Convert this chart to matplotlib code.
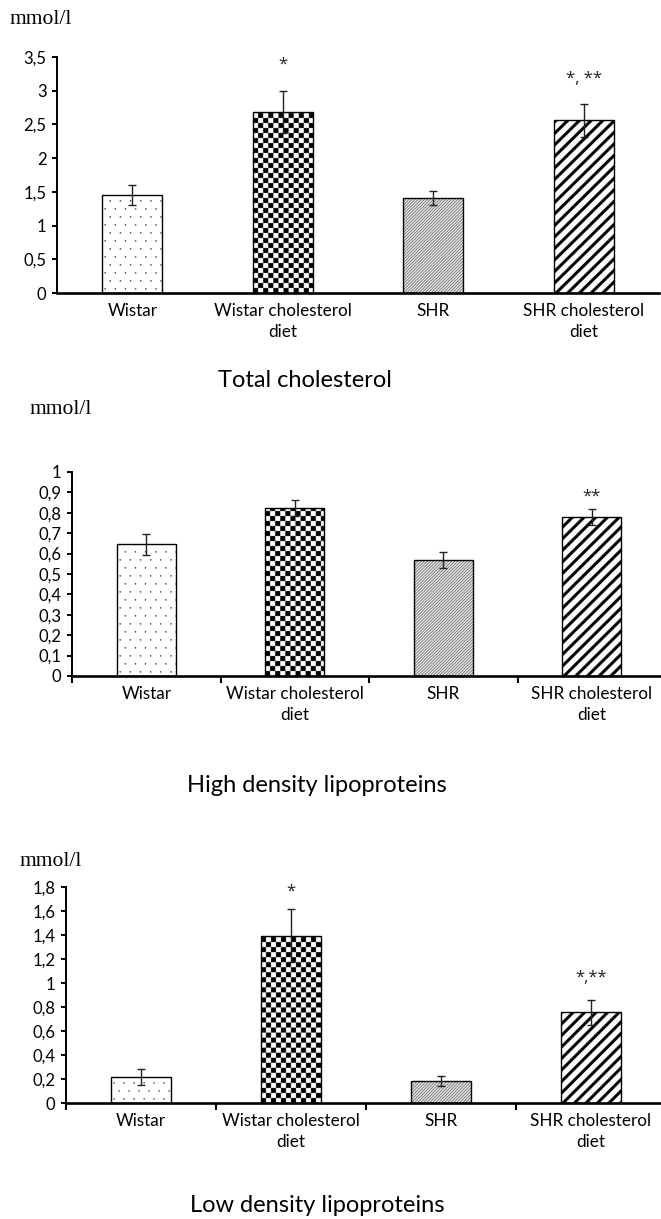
import numpy as np
import matplotlib
matplotlib.use("Agg")
import matplotlib.pyplot as plt
from matplotlib.ticker import MultipleLocator, FuncFormatter, FixedLocator

# ---------------- data ----------------
groups = ["Wistar", "Wistar cholesterol\ndiet", "SHR", "SHR cholesterol\ndiet"]

tc_mean = [1.45, 2.68, 1.41, 2.56]
tc_err = [0.15, 0.31, 0.10, 0.24]
tc_marks = ["", "*", "", "*, **"]
tc_mark_y = [None, 3.38, None, 3.18]

hdl_mean = [0.645, 0.822, 0.567, 0.780]
hdl_err = [0.052, 0.040, 0.040, 0.040]
hdl_marks = ["", "", "", "**"]
hdl_mark_y = [None, None, None, 0.88]

ldl_mean = [0.215, 1.395, 0.185, 0.755]
ldl_err = [0.065, 0.220, 0.040, 0.105]
ldl_marks = ["", "*", "", "*,**"]
ldl_mark_y = [None, 1.76, None, 1.04]

titles = ["Total cholesterol", "High density lipoproteins", "Low density lipoproteins"]
unit = "mmol/l"

# ---------------- style ----------------
W, H = 661, 1219
DPI = 100
fig = plt.figure(figsize=(W / DPI, H / DPI), dpi=DPI)
SANS = ["Lato", "DejaVu Sans"]
SERIF = ["Liberation Serif", "DejaVu Serif"]
SS = 4  # texture supersampling

patterns = ["dots", "checker", "fine", "wide"]


def texture(kind, w, h):
    yy, xx = np.mgrid[0:h * SS, 0:w * SS] / SS
    img = np.ones((h * SS, w * SS, 3))
    if kind == "dots":
        row = np.floor(yy / 8)
        mask = (np.abs(yy % 8 - 4) < 0.6) & (np.abs(((xx + (row % 2) * 5) % 10) - 3) < 0.6)
        img[mask] = 0.05
    elif kind == "checker":
        mask = ((np.floor(xx / 5) + np.floor(yy / 5)) % 2) == 0
        img[mask] = 0.0
    elif kind == "fine":
        mask = ((xx - yy) % 3) < 1.0
        img[mask] = 0.3
        img[~mask] = 0.95
    elif kind == "wide":
        mask = ((xx - yy) % 11.5) < 4.2
        img[mask] = 0.0
    return img


def fmt(v, pos):
    s = "%g" % round(v, 3)
    return s.replace(".", ",")


def panel(rect, mean, err, marks, mark_y, ymax, ystep, title, unit_xy, title_xy, xticks):
    ax = fig.add_axes(rect)
    x = np.arange(len(groups))
    ax.set_xlim(-0.5, 3.5)
    ax.set_ylim(0, ymax)
    bars = ax.bar(x, mean, width=0.4, facecolor="none", edgecolor="black",
                  linewidth=1.0, zorder=3)
    ax.errorbar(x, mean, yerr=err, fmt="none", ecolor="#222222", elinewidth=1.0,
                capsize=3.2, capthick=1.0, zorder=4)
    for b, kind in zip(bars, patterns):
        bb = b.get_window_extent()
        w = max(int(round(bb.width)), 1)
        h = max(int(round(bb.height)), 1)
        im = ax.imshow(texture(kind, w, h),
                       extent=(b.get_x(), b.get_x() + b.get_width(), 0, b.get_height()),
                       origin="lower", interpolation="antialiased", aspect="auto", zorder=2)
        im.set_clip_path(b)
    ax.set_xlim(-0.5, 3.5)
    ax.set_ylim(0, ymax)
    for xi, m, my in zip(x, marks, mark_y):
        if m:
            ax.text(xi, my, m, ha="center", va="center", fontsize=12,
                    family=["Open Sans", "DejaVu Sans"], color="#222222")
    for s in ["top", "right"]:
        ax.spines[s].set_visible(False)
    ax.spines["left"].set_linewidth(1.4)
    ax.spines["bottom"].set_linewidth(1.9)
    ax.yaxis.set_major_locator(MultipleLocator(ystep))
    ax.yaxis.set_major_formatter(FuncFormatter(fmt))
    ax.tick_params(axis="y", direction="out", length=3.5, width=1.4, pad=4,
                   labelsize=12)
    for lab in ax.get_yticklabels():
        lab.set_family(SANS)
    ax.set_xticks(x)
    ax.set_xticklabels(groups, family=SANS, fontsize=12.3, linespacing=1.4)
    ax.tick_params(axis="x", length=0, pad=7)
    if xticks:
        ax.xaxis.set_minor_locator(FixedLocator([-0.5, 0.5, 1.5, 2.5, 3.5]))
        ax.tick_params(axis="x", which="minor", length=5, width=1.5, direction="out")
    fig.text(unit_xy[0] / W, 1 - unit_xy[1] / H, unit, family=SERIF, fontsize=15.5,
             ha="left", va="center")
    fig.text(title_xy[0] / W, 1 - title_xy[1] / H, title, family=SANS, fontsize=17,
             ha="center", va="center")
    return ax


def rect(left, right, top, bottom):
    return [left / W, 1 - bottom / H, (right - left) / W, (bottom - top) / H]


panel(rect(57, 659, 57, 293), tc_mean, tc_err, tc_marks, tc_mark_y, 3.5, 0.5,
      titles[0], (10, 19), (305, 380), False)
panel(rect(72, 666, 472, 676), hdl_mean, hdl_err, hdl_marks, hdl_mark_y, 1.0, 0.1,
      titles[1], (30, 409), (317, 786), True)
panel(rect(66, 666, 887, 1103), ldl_mean, ldl_err, ldl_marks, ldl_mark_y, 1.8, 0.2,
      titles[2], (20, 862), (317, 1205), True)

fig.savefig("out.png", dpi=DPI, facecolor="white")
